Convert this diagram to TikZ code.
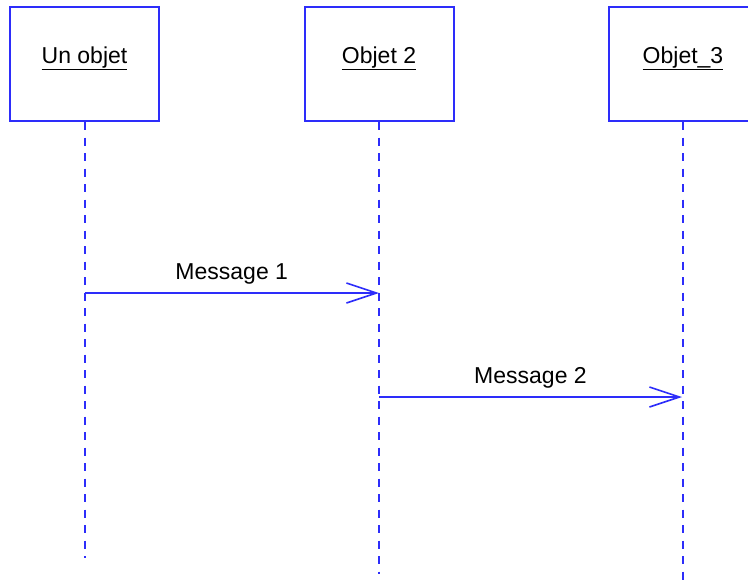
\documentclass[tikz,border=0pt]{standalone}
\usepackage{fontspec}
\setmainfont{Liberation Sans}
\usetikzlibrary{arrows.meta}
\definecolor{umlblue}{RGB}{45,45,250}
\tikzset{
  objbox/.style={draw=umlblue, line width=2pt, minimum width=149pt, minimum height=114pt,
    text height=16pt, text depth=18pt, font=\fontsize{23}{27}\selectfont},
  lifeline/.style={draw=umlblue, line width=2pt, dash pattern=on 8pt off 7.5pt},
  message/.style={draw=umlblue, line width=1.6pt, -{Straight Barb[length=30pt,width=20pt,line width=1.6pt]}},
  msglabel/.style={above=8pt, inner sep=0pt, font=\fontsize{23}{27}\selectfont}
}

\begin{document}
\begin{tikzpicture}[x=1pt, y=-1pt]
    \clip (0, 0) rectangle (748, 582);

    \node [objbox] (un) at (84.5, 64) {\underline{Un objet}};
    \node [objbox] (obj2) at (379, 64) {\underline{Objet 2}};
    \node [objbox] (obj3) at (683, 64) {\underline{Objet\_3}};

    \coordinate (un-end) at (84.5, 558);
    \coordinate (obj2-end) at (379, 574);
    \coordinate (obj3-end) at (683, 590);
    \draw [lifeline] (un) -- (un-end);
    \draw [lifeline] (obj2) -- (obj2-end);
    \draw [lifeline] (obj3) -- (obj3-end);

    \coordinate (m1-from) at (84.5, 293);
    \coordinate (m1-to) at (379, 293);
    \coordinate (m2-from) at (379, 397);
    \coordinate (m2-to) at (682, 397);
    \draw [message] (m1-from) -- node [msglabel] {Message 1} (m1-to);
    \draw [message] (m2-from) -- node [msglabel] {Message 2} (m2-to);
  \end{tikzpicture}
\end{document}
